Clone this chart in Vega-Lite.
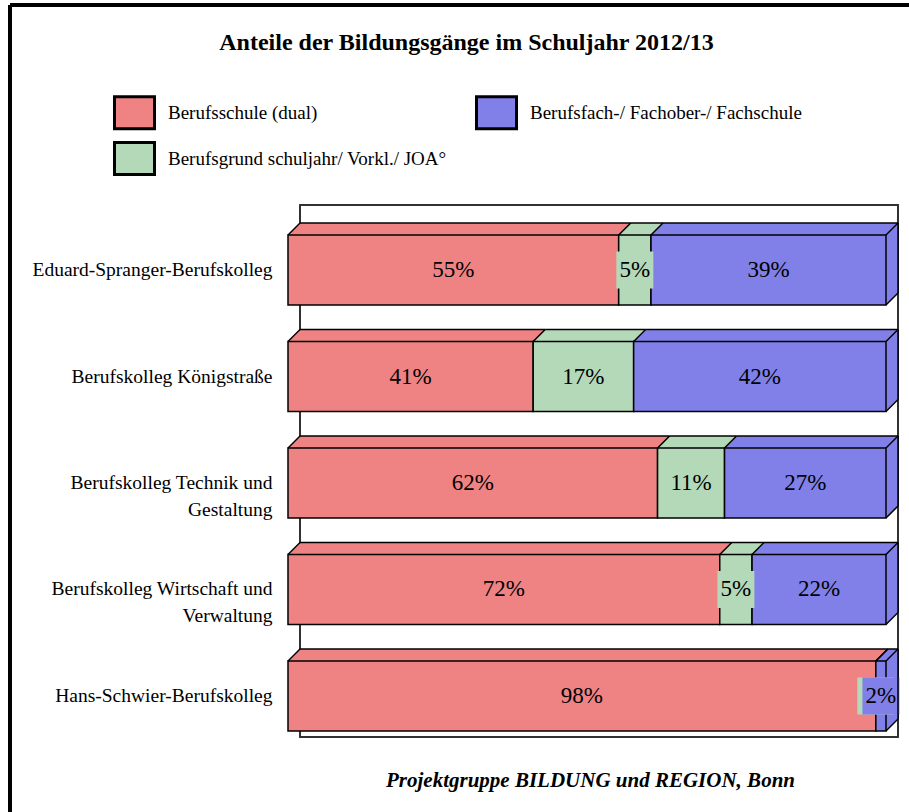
{
  "$schema": "https://vega.github.io/schema/vega-lite/v6.json",
  "width": 899,
  "height": 807,
  "padding": {"left": 10, "top": 5, "right": 0, "bottom": 0},
  "autosize": {"type": "none"},
  "background": "white",
  "config": {
    "view": {"stroke": null},
    "font": "Liberation Serif",
    "text": {"font": "Liberation Serif"}
  },
  "title": {
    "text": "Anteile der Bildungsgänge im Schuljahr 2012/13",
    "font": "Liberation Serif",
    "fontSize": 24,
    "fontWeight": "bold",
    "color": "black",
    "anchor": "middle",
    "frame": "group",
    "baseline": "alphabetic",
    "offset": -70,
    "dx": 7
  },
  "data": {
    "values": [
      {"school": "Eduard-Spranger-Berufskolleg", "type": "Berufsschule (dual)", "value": 0.553},
      {"school": "Eduard-Spranger-Berufskolleg", "type": "Berufsgrund schuljahr/ Vorkl./ JOA°", "value": 0.054},
      {"school": "Eduard-Spranger-Berufskolleg", "type": "Berufsfach-/ Fachober-/ Fachschule", "value": 0.393},
      {"school": "Berufskolleg Königstraße", "type": "Berufsschule (dual)", "value": 0.41},
      {"school": "Berufskolleg Königstraße", "type": "Berufsgrund schuljahr/ Vorkl./ JOA°", "value": 0.168},
      {"school": "Berufskolleg Königstraße", "type": "Berufsfach-/ Fachober-/ Fachschule", "value": 0.422},
      {"school": "Berufskolleg Technik und Gestaltung", "type": "Berufsschule (dual)", "value": 0.618},
      {"school": "Berufskolleg Technik und Gestaltung", "type": "Berufsgrund schuljahr/ Vorkl./ JOA°", "value": 0.112},
      {"school": "Berufskolleg Technik und Gestaltung", "type": "Berufsfach-/ Fachober-/ Fachschule", "value": 0.27},
      {"school": "Berufskolleg Wirtschaft und Verwaltung", "type": "Berufsschule (dual)", "value": 0.722},
      {"school": "Berufskolleg Wirtschaft und Verwaltung", "type": "Berufsgrund schuljahr/ Vorkl./ JOA°", "value": 0.054},
      {"school": "Berufskolleg Wirtschaft und Verwaltung", "type": "Berufsfach-/ Fachober-/ Fachschule", "value": 0.224},
      {"school": "Hans-Schwier-Berufskolleg", "type": "Berufsschule (dual)", "value": 0.983},
      {"school": "Hans-Schwier-Berufskolleg", "type": "Berufsgrund schuljahr/ Vorkl./ JOA°", "value": 0.0},
      {"school": "Hans-Schwier-Berufskolleg", "type": "Berufsfach-/ Fachober-/ Fachschule", "value": 0.017}
    ]
  },
  "encoding": {
    "y": {
      "field": "school",
      "type": "nominal",
      "sort": null,
      "scale": {
        "domain": ["Eduard-Spranger-Berufskolleg", "Berufskolleg Königstraße", "Berufskolleg Technik und Gestaltung", "Berufskolleg Wirtschaft und Verwaltung", "Hans-Schwier-Berufskolleg"],
        "range": [211.75, 744.25], "paddingInner": 0.3427, "paddingOuter": 0.1714
      },
      "axis": {
        "orient": "left",
        "offset": -262,
        "title": null,
        "domain": false,
        "ticks": false,
        "tickSize": 0,
        "grid": false,
        "labelPadding": 0,
        "labelFont": "Liberation Serif",
        "labelFontSize": 19.5,
        "labelColor": "black",
        "labelLimit": 400,
        "labelLineHeight": 27,
        "labelExpr": "split(replace(datum.value, ' und ', ' und|'), '|')"
      }
    }
  },
  "layer": [
    {
      "mark": {"type": "rule", "stroke": "black", "strokeWidth": 3},
      "encoding": {"x": {"value": 0}, "y": {"value": 0}, "y2": {"value": "height"}}
    },
    {
      "mark": {"type": "rule", "stroke": "black", "strokeWidth": 3},
      "encoding": {"x": {"value": 0}, "x2": {"value": "width"}, "y": {"value": 0}}
    },
    {
      "mark": {"type": "rule", "stroke": "#333333", "strokeWidth": 1.2, "xOffset": 12, "x2Offset": 12, "yOffset": -65.25},
      "encoding": {
        "x": {"datum": 0, "type": "quantitative", "scale": {"domain": [0, 1], "range": [278, 876], "nice": false}},
        "x2": {"datum": 1},
        "y": {"datum": "Eduard-Spranger-Berufskolleg"}
      }
    },
    {
      "mark": {"type": "rule", "stroke": "#333333", "strokeWidth": 1.2, "xOffset": 12, "x2Offset": 12, "yOffset": 41.25},
      "encoding": {
        "x": {"datum": 0, "type": "quantitative", "scale": {"domain": [0, 1], "range": [278, 876], "nice": false}},
        "x2": {"datum": 1},
        "y": {"datum": "Hans-Schwier-Berufskolleg"}
      }
    },
    {
      "mark": {"type": "rule", "stroke": "#333333", "strokeWidth": 1.2, "xOffset": 12, "yOffset": -65.25, "y2Offset": 41.25},
      "encoding": {
        "x": {"datum": 0, "type": "quantitative", "scale": {"domain": [0, 1], "range": [278, 876], "nice": false}},
        "y": {"datum": "Eduard-Spranger-Berufskolleg"},
        "y2": {"datum": "Hans-Schwier-Berufskolleg"}
      }
    },
    {
      "mark": {"type": "rule", "stroke": "#333333", "strokeWidth": 1.2, "xOffset": 12, "yOffset": -65.25, "y2Offset": 41.25},
      "encoding": {
        "x": {"datum": 1, "type": "quantitative", "scale": {"domain": [0, 1], "range": [278, 876], "nice": false}},
        "y": {"datum": "Eduard-Spranger-Berufskolleg"},
        "y2": {"datum": "Hans-Schwier-Berufskolleg"}
      }
    },
    {
      "encoding": {
        "x": {"field": "value", "type": "quantitative", "stack": "normalize", "scale": {"domain": [0, 1], "range": [278, 876], "nice": false}},
        "color": {
          "field": "type",
          "type": "nominal",
          "scale": {
            "domain": ["Berufsschule (dual)", "Berufsfach-/ Fachober-/ Fachschule", "Berufsgrund schuljahr/ Vorkl./ JOA°"],
            "range": ["#EF8383", "#8080E8", "#B4D9B9"]
          }
        },
        "order": {"field": "type", "sort": "descending"}
      },
      "layer": [
        {"mark": {"type": "bar", "strokeWidth": 0, "xOffset": 12, "x2Offset": 12, "yOffset": -12, "y2Offset": -12}},
        {"mark": {"type": "bar", "strokeWidth": 0, "xOffset": 11, "x2Offset": 11, "yOffset": -11, "y2Offset": -11}},
        {"mark": {"type": "bar", "strokeWidth": 0, "xOffset": 10, "x2Offset": 10, "yOffset": -10, "y2Offset": -10}},
        {"mark": {"type": "bar", "strokeWidth": 0, "xOffset": 9, "x2Offset": 9, "yOffset": -9, "y2Offset": -9}},
        {"mark": {"type": "bar", "strokeWidth": 0, "xOffset": 8, "x2Offset": 8, "yOffset": -8, "y2Offset": -8}},
        {"mark": {"type": "bar", "strokeWidth": 0, "xOffset": 7, "x2Offset": 7, "yOffset": -7, "y2Offset": -7}},
        {"mark": {"type": "bar", "strokeWidth": 0, "xOffset": 6, "x2Offset": 6, "yOffset": -6, "y2Offset": -6}},
        {"mark": {"type": "bar", "strokeWidth": 0, "xOffset": 5, "x2Offset": 5, "yOffset": -5, "y2Offset": -5}},
        {"mark": {"type": "bar", "strokeWidth": 0, "xOffset": 4, "x2Offset": 4, "yOffset": -4, "y2Offset": -4}},
        {"mark": {"type": "bar", "strokeWidth": 0, "xOffset": 3, "x2Offset": 3, "yOffset": -3, "y2Offset": -3}},
        {"mark": {"type": "bar", "strokeWidth": 0, "xOffset": 2, "x2Offset": 2, "yOffset": -2, "y2Offset": -2}},
        {"mark": {"type": "bar", "strokeWidth": 0, "xOffset": 1, "x2Offset": 1, "yOffset": -1, "y2Offset": -1}},
        {
          "mark": {"type": "bar", "stroke": "black", "strokeWidth": 1.5},
          "encoding": {
            "x": {
              "field": "value", "type": "quantitative", "stack": "normalize",
              "scale": {"domain": [0, 1], "range": [278, 876], "nice": false},
              "axis": {
                "orient": "bottom", "domain": false, "ticks": false, "labels": false, "grid": false,
                "title": "Projektgruppe BILDUNG und REGION, Bonn",
                "titleFont": "Liberation Serif", "titleFontSize": 21, "titleFontStyle": "italic", "titleFontWeight": "bold",
                "titleColor": "black", "titleX": 580, "titleY": -26, "titleAlign": "center", "titleBaseline": "alphabetic"
              }
            },
            "color": {
              "field": "type",
              "type": "nominal",
              "scale": {
                "domain": ["Berufsschule (dual)", "Berufsfach-/ Fachober-/ Fachschule", "Berufsgrund schuljahr/ Vorkl./ JOA°"],
                "range": ["#EF8383", "#8080E8", "#B4D9B9"]
              },
              "legend": {
                "title": null,
                "orient": "none",
                "legendX": 107,
                "legendY": 90,
                "direction": "horizontal",
                "columns": 2,
                "columnPadding": 23,
                "rowPadding": 1,
                "padding": 0,
                "symbolType": "M-1.25,-1L1.25,-1L1.25,1L-1.25,1Z",
                "symbolSize": 1024,
                "symbolStrokeColor": "black",
                "symbolStrokeWidth": 3,
                "symbolOpacity": 1,
                "labelFont": "Liberation Serif",
                "labelFontSize": 19,
                "labelColor": "black",
                "labelLimit": 500,
                "labelOffset": 16
              }
            }
          }
        },
        {
          "mark": {"type": "point", "shape": "square", "size": 1369, "filled": true, "opacity": 1, "strokeWidth": 0},
          "encoding": {
            "x": {"field": "value", "type": "quantitative", "stack": "normalize", "bandPosition": 0.5, "scale": {"domain": [0, 1], "range": [278, 876], "nice": false}}
          }
        },
        {
          "transform": [{"filter": "datum.value > 0"}],
          "mark": {"type": "text", "font": "Liberation Serif", "fontSize": 23, "align": "center", "baseline": "middle"},
          "encoding": {
            "x": {"field": "value", "type": "quantitative", "stack": "normalize", "bandPosition": 0.5, "scale": {"domain": [0, 1], "range": [278, 876], "nice": false}},
            "text": {"field": "value", "type": "quantitative", "format": ".0%"},
            "color": {"value": "black"}
          }
        }
      ]
    },
    {
      "transform": [
        {"stack": "value", "groupby": ["school"], "offset": "normalize", "sort": [{"field": "type", "order": "descending"}], "as": ["x0", "x1"]}
      ],
      "layer": [
        {
          "mark": {"type": "rule", "stroke": "black", "strokeWidth": 1.5, "yOffset": -35, "y2Offset": -47, "x2Offset": 12},
          "encoding": {
            "x": {"field": "x0", "type": "quantitative", "scale": {"domain": [0, 1], "range": [278, 876], "nice": false}},
            "x2": {"field": "x0"},
            "y2": {"field": "school"}
          }
        },
        {
          "transform": [{"filter": "datum.type == 'Berufsfach-/ Fachober-/ Fachschule'"}],
          "mark": {"type": "rule", "stroke": "black", "strokeWidth": 1.5, "yOffset": -35, "y2Offset": -47, "x2Offset": 12},
          "encoding": {
            "x": {"field": "x1", "type": "quantitative", "scale": {"domain": [0, 1], "range": [278, 876], "nice": false}},
            "x2": {"field": "x1"},
            "y2": {"field": "school"}
          }
        },
        {
          "transform": [{"filter": "datum.type == 'Berufsfach-/ Fachober-/ Fachschule'"}],
          "mark": {"type": "rule", "stroke": "black", "strokeWidth": 1.5, "yOffset": 35, "y2Offset": 23, "x2Offset": 12},
          "encoding": {
            "x": {"field": "x1", "type": "quantitative", "scale": {"domain": [0, 1], "range": [278, 876], "nice": false}},
            "x2": {"field": "x1"},
            "y2": {"field": "school"}
          }
        },
        {
          "transform": [{"filter": "datum.type == 'Berufsfach-/ Fachober-/ Fachschule'"}],
          "mark": {"type": "rule", "stroke": "black", "strokeWidth": 1.5, "xOffset": 12, "yOffset": -47, "y2Offset": 23},
          "encoding": {
            "x": {"field": "x1", "type": "quantitative", "scale": {"domain": [0, 1], "range": [278, 876], "nice": false}},
            "y2": {"field": "school"}
          }
        },
        {
          "mark": {"type": "rule", "stroke": "black", "strokeWidth": 1.5, "xOffset": 12, "x2Offset": 12, "yOffset": -47},
          "encoding": {
            "x": {"field": "x0", "type": "quantitative", "scale": {"domain": [0, 1], "range": [278, 876], "nice": false}},
            "x2": {"field": "x1"}
          }
        }
      ]
    }
  ]
}
